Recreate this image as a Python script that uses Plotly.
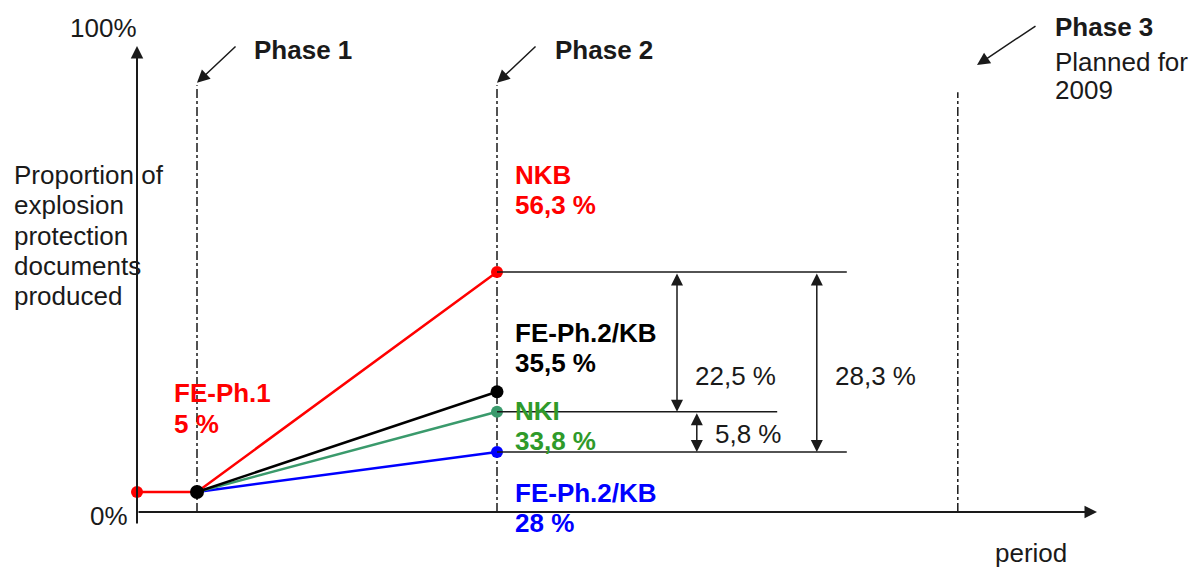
import plotly.graph_objects as go

# ---- data ----
phase_names = ["Phase 1", "Phase 2", "Phase 3"]
phase_x = [1, 6, 13.68]            # period position of each phase
start_x = 0                        # start of the period axis

# plotted levels (% of axis height, as drawn) and their label texts
start_level = 4.3                  # FE-Ph.1 5 %
series_names = ["NKB", "FE-Ph.2/KB", "NKI", "FE-Ph.2/KB"]
series_labels = ["56,3 %", "35,5 %", "33,8 %", "28 %"]
series_levels = [51.5, 25.8, 21.5, 12.9]
series_line_colors = ["#ff0000", "#000000", "#3a9a6c", "#0000ff"]
series_text_colors = ["#ff0000", "#000000", "#2f9a2a", "#0000ff"]

diff_labels = ["22,5 %", "5,8 %", "28,3 %"]
y_title_lines = ["Proportion of", "explosion", "protection", "documents", "produced"]

FONT = "Liberation Sans, Arial, sans-serif"
FS = 26
INK = "#1a1a1a"

# page has an 8px body margin: figure is sized/offset to compensate
W, H = 1194, 560
X0_PX = 137 - 8      # pixel of period 0 in figure
Y0_PX = 512 - 8      # pixel of 0 % in figure
PX_PER_X = 60
PX_PER_Y = 4.66

fig = go.Figure()

# ---- series lines ----
p1 = phase_x[0]
p2 = phase_x[1]
fig.add_trace(go.Scatter(x=[start_x, p1, p2], y=[start_level, start_level, series_levels[0]],
                         mode="lines", line=dict(color=series_line_colors[0], width=2.5),
                         showlegend=False, hoverinfo="skip"))
for i in [3, 2, 1]:
    fig.add_trace(go.Scatter(x=[p1, p2], y=[start_level, series_levels[i]], mode="lines",
                             line=dict(color=series_line_colors[i], width=2.5),
                             showlegend=False, hoverinfo="skip"))

# ---- reference lines at phase 2 ----
ext_long = 11.83
ext_mid = 10.67
shapes = []
for lvl, xe in [(series_levels[0], ext_long), (series_levels[2], ext_mid), (series_levels[3], ext_long)]:
    shapes.append(dict(type="line", xref="x", yref="y", x0=p2, x1=xe, y0=lvl, y1=lvl,
                       line=dict(color=INK, width=1.5), layer="above"))

# ---- dashed phase lines ----
for px, top in zip(phase_x, [91.6, 91.6, 90.1]):
    shapes.append(dict(type="line", xref="x", yref="y", x0=px, x1=px, y0=0, y1=top,
                       line=dict(color=INK, width=1.5, dash="dashdot"), layer="below"))

# ---- markers ----
fig.add_trace(go.Scatter(x=[start_x], y=[start_level], mode="markers",
                         marker=dict(color="#ff0000", size=12), showlegend=False, hoverinfo="skip"))
for i in range(4):
    fig.add_trace(go.Scatter(x=[p2], y=[series_levels[i]], mode="markers",
                             marker=dict(color=series_line_colors[i], size=13 if i == 1 else 12),
                             showlegend=False, hoverinfo="skip"))
fig.add_trace(go.Scatter(x=[p1], y=[start_level], mode="markers",
                         marker=dict(color="#000000", size=14), showlegend=False, hoverinfo="skip"))

ann = []

def arrow(x, y, ax, ay, w=2, size=1.2, both=False):
    d = dict(x=x, y=y, ax=ax, ay=ay, xref="x", yref="y", axref="x", ayref="y",
             text="", showarrow=True, arrowhead=2, arrowwidth=w, arrowsize=size,
             arrowcolor=INK, standoff=0, startstandoff=0)
    if both:
        d.update(arrowside="end+start", startarrowhead=2, startarrowsize=size)
    ann.append(d)

def text(x, y, s, color=INK, bold=False, size=FS, xanchor="left"):
    ann.append(dict(x=x, y=y, xref="x", yref="y", text=f"<b>{s}</b>" if bold else s,
                    showarrow=False, xanchor=xanchor, yanchor="middle",
                    font=dict(family=FONT, size=size, color=color)))

# axes
arrow(start_x, 100, start_x, -2.8, w=2, size=1.25)
arrow(16.0, 0, start_x, 0, w=2, size=1.25)

# phase arrows
arrow(p1, 92.1, 1.667, 100.2, w=1.5, size=1.7)
arrow(p2, 92.1, 6.667, 100.2, w=1.5, size=1.7)
arrow(14.0, 95.9, 15.0, 104.5, w=1.5, size=1.7)

# dimension arrows
arrow(9.0, series_levels[2], 9.0, series_levels[0], w=1.5, size=1.6, both=True)
arrow(9.33, series_levels[3], 9.33, series_levels[2], w=1.5, size=1.6, both=True)
arrow(11.33, series_levels[3], 11.33, series_levels[0], w=1.5, size=1.6, both=True)

# axis texts
text(0.03, 103.9, "100%", xanchor="right")
text(-0.12, -0.86, "0%", xanchor="right")
text(14.27, -8.7, "period")
for k, line in enumerate(y_title_lines):
    text(-2.08, 72.3 - k * 6.5, line)

# phase texts
text(1.917, 99.1, phase_names[0], bold=True)
text(6.93, 99.1, phase_names[1], bold=True)
text(15.27, 104.1, phase_names[2], bold=True)
text(15.27, 96.6, "Planned for")
text(15.27, 90.6, "2009")

# series labels
text(0.583, 25.5, "FE-Ph.1", color="#ff0000", bold=True)
text(0.583, 18.9, "5 %", color="#ff0000", bold=True)
label_y = [72.3, 38.4, 21.7, 4.1]
for i in range(4):
    text(6.27, label_y[i], series_names[i], color=series_text_colors[i], bold=True)
    text(6.27, label_y[i] - 6.5, series_labels[i], color=series_text_colors[i], bold=True)

# difference labels
text(9.27, 29.2, diff_labels[0])
text(9.6, 16.7, diff_labels[1])
text(11.6, 29.2, diff_labels[2])

fig.update_layout(
    width=W, height=H,
    margin=dict(l=0, r=0, t=0, b=0),
    paper_bgcolor="white", plot_bgcolor="white",
    xaxis=dict(range=[-X0_PX / PX_PER_X, (W - X0_PX) / PX_PER_X], visible=False, fixedrange=True),
    yaxis=dict(range=[(Y0_PX - H) / PX_PER_Y, Y0_PX / PX_PER_Y], visible=False, fixedrange=True),
    shapes=shapes, annotations=ann, showlegend=False,
)

fig.write_html("out.html")
